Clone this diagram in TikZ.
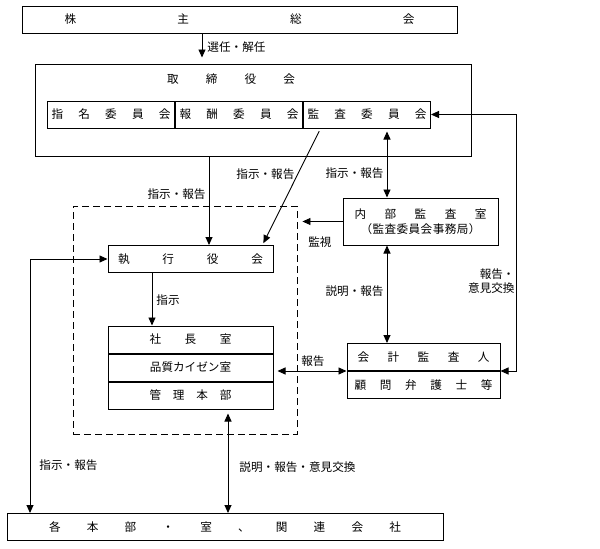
\documentclass[tikz,border=0pt]{standalone}
\usepackage{fontspec}
\setmainfont{Noto Sans CJK JP}
\usetikzlibrary{arrows.meta, positioning}

\newcommand{\spread}[2]{\makebox[#1]{#2}}

\begin{document}
\begin{tikzpicture}[
  x=1pt, y=-1pt,
  box/.style={rectangle, draw, line width=1pt, minimum height=27pt, inner sep=0pt, align=center, font=\fontsize{11.6}{14.5}\selectfont},
  lbl/.style={inner sep=1pt, align=center, font=\fontsize{11.6}{14.5}\selectfont},
  arr/.style={line width=0.9pt, -{Triangle[length=8pt,width=7pt]}},
  darr/.style={line width=0.9pt, {Triangle[length=8pt,width=7pt]}-{Triangle[length=8pt,width=7pt]}},
]
  \useasboundingbox (0,0) rectangle (600,549);

  % columns for the connectors
  \coordinate (selcol) at (202,0);
  \coordinate (cmdcol) at (209,0);
  \coordinate (iacol) at (387,0);
  \coordinate (loopcol) at (516,0);
  \coordinate (execcol) at (152,0);
  \coordinate (brcol) at (228,0);
  \coordinate (leftcol) at (30,0);

  \node[box, minimum width=435pt] (gm) at (239.5,19.5) {\spread{350pt}{株\hfill 主\hfill 総\hfill 会}};

  \node[box, minimum width=436pt, minimum height=92pt] (board) at (253,110) {};
  \node[lbl] (boardttl) at (231,79) {\spread{128pt}{取\hfill 締\hfill 役\hfill 会}};
  \node[box, minimum width=127pt] (nom) at (111,114.5) {\spread{119pt}{指\hfill 名\hfill 委\hfill 員\hfill 会}};
  \node[box, minimum width=127pt, right=0pt of nom] (rem) {\spread{119pt}{報\hfill 酬\hfill 委\hfill 員\hfill 会}};
  \node[box, minimum width=127pt, right=0pt of rem] (aud) {\spread{119pt}{監\hfill 査\hfill 委\hfill 員\hfill 会}};

  \node[draw, line width=0.9pt, dash pattern=on 7pt off 4pt, minimum width=224pt, minimum height=228pt] (grp) at (185,320) {};
  \node[box, minimum width=165pt] (exec) at (190.5,259) {\spread{145pt}{執\hfill 行\hfill 役\hfill 会}};
  \node[box, minimum width=165pt] (pres) at (190.5,339.5) {\spread{82pt}{社\hfill 長\hfill 室}};
  \node[box, minimum width=165pt, below=0pt of pres] (qual) {品質カイゼン室};
  \node[box, minimum width=165pt, below=0pt of qual] (admin) {\spread{82pt}{管\hfill 理\hfill 本\hfill 部}};

  \node[box, minimum width=155pt, minimum height=47pt] (ia) at (420.5,221.5) {\spread{132pt}{内\hfill 部\hfill 監\hfill 査\hfill 室}\\\spread{120pt}{（\hfill 監\hfill 査\hfill 委\hfill 員\hfill 会\hfill 事\hfill 務\hfill 局\hfill ）}};
  \node[box, minimum width=153pt] (ca) at (423.5,357) {\spread{132pt}{会\hfill 計\hfill 監\hfill 査\hfill 人}};
  \node[box, minimum width=153pt, below=0pt of ca] (law) {\spread{138pt}{顧\hfill 問\hfill 弁\hfill 護\hfill 士\hfill 等}};

  \node[box, minimum width=436pt] (br) at (225,527) {\spread{352pt}{各\hfill 本\hfill 部\hfill ・\hfill 室\hfill 、\hfill 関\hfill 連\hfill 会\hfill 社}};

  % connectors
  \draw[arr, shorten >=6pt] (gm.south -| selcol) -- (board.north -| selcol) node[lbl, right=4pt, pos=0.45] {選任・解任};
  \draw[arr] (board.south -| cmdcol) -- (exec.north -| cmdcol) node[lbl, left=2pt, pos=0.42] {指示・報告};
  \draw[arr, shorten <=3pt, shorten >=2pt] ([xshift=-46.5pt]aud.south) -- ([xshift=-11pt]exec.north east) node[lbl, left=2pt, pos=0.39] {指示・報告};
  \draw[darr, shorten <=3pt] (aud.south -| iacol) -- (ia.north -| iacol) node[lbl, left=2pt, pos=0.64] {指示・報告};
  \draw[arr, shorten >=5pt] (ia.west) -- (grp.east |- ia.west) node[lbl, below=14pt, pos=0.5] {監視};
  \draw[darr] (ia.south -| iacol) -- (ca.north -| iacol) node[lbl, left=2pt, pos=0.47] {説明・報告};
  \draw[darr] (aud.east) -- (aud.east -| loopcol) -- node[lbl, left=0pt, pos=0.65, align=right] {報告・\\意見交換} (ca.south east -| loopcol) -- (ca.south east);
  \draw[arr] (exec.south -| execcol) -- (pres.north -| execcol) node[lbl, right=3pt, pos=0.51] {指示};
  \draw[darr, shorten <=4pt] (qual.east |- ca.south west) -- (ca.south west) node[lbl, above=3pt, pos=0.54] {報告};
  \draw[darr, shorten <=4pt] (admin.south -| brcol) -- (br.north -| brcol) node[lbl, right=10pt, pos=0.56] {説明・報告・意見交換};
  \draw[darr] (exec.west) -- (exec.west -| leftcol) -- (br.north -| leftcol) node[lbl, right=8pt, pos=0.81] {指示・報告};
\end{tikzpicture}
\end{document}
